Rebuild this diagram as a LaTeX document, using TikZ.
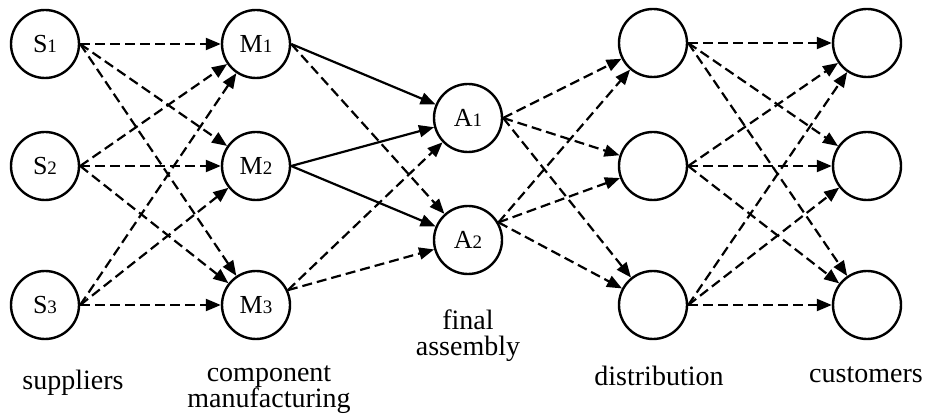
\documentclass[tikz,border=0pt]{standalone}
\usepackage{fontspec}
\setmainfont{Liberation Serif}
\usetikzlibrary{arrows.meta}
\newcommand\nodelab[2]{#1{\fontsize{19}{19}\selectfont #2}}
\begin{document}
\begin{tikzpicture}[x=1pt,y=-1pt,
  stage/.style={circle,draw,line width=2.4pt,minimum size=68pt,inner sep=0pt,font=\fontsize{26}{26}\selectfont},
  flow/.style={line width=2.2pt,-{Triangle[length=15pt,width=12pt]}},
  dflow/.style={flow,dash pattern=on 10pt off 5pt},
  caption/.style={font=\fontsize{28}{26}\selectfont,align=center,inner sep=0pt}
]
\useasboundingbox (0,0) rectangle (928,419);
% nodes
\node[stage] (S1) at (45,44) {\nodelab{S}{1}};
\node[stage] (S2) at (45,166) {\nodelab{S}{2}};
\node[stage] (S3) at (45,305) {\nodelab{S}{3}};
\node[stage] (M1) at (256,44) {\nodelab{M}{1}};
\node[stage] (M2) at (256,166) {\nodelab{M}{2}};
\node[stage] (M3) at (256,305) {\nodelab{M}{3}};
\node[stage] (A1) at (468,118) {\nodelab{A}{1}};
\node[stage] (A2) at (468,240) {\nodelab{A}{2}};
\node[stage] (D1) at (653,43) {};
\node[stage] (D2) at (653,166) {};
\node[stage] (D3) at (653,305) {};
\node[stage] (C1) at (867,43) {};
\node[stage] (C2) at (867,166) {};
\node[stage] (C3) at (867,305) {};
% captions
\node[caption] (capS) at (73,383) {suppliers};
\node[caption] (capM) at (269,390) {component\\manufacturing};
\node[caption] (capA) at (468,336) {final\\assembly};
\node[caption] (capD) at (659,376) {distribution};
\node[caption] (capC) at (866,375) {customers};
% suppliers -> manufacturing
\foreach \s in {S1,S2,S3}
  \foreach \m in {M1,M2,M3}
    \draw[dflow] (\s.east) -- (\m);
% manufacturing -> assembly
\draw[flow]  (M1.east) -- (A1);
\draw[dflow] (M1.east) -- (A2);
\draw[flow]  (M2.east) -- (A1);
\draw[flow]  (M2.east) -- (A2);
\draw[dflow] (M3.25) -- (A1);
\draw[dflow] (M3.25) -- (A2);
% assembly -> distribution
\foreach \d in {D1,D2,D3}{
  \draw[dflow] (A1.east) -- (\d);
  \draw[dflow] (A2.30) -- (\d);
}
% distribution -> customers
\foreach \d in {D1,D2,D3}
  \foreach \c in {C1,C2,C3}
    \draw[dflow] (\d.east) -- (\c);
\end{tikzpicture}
\end{document}
